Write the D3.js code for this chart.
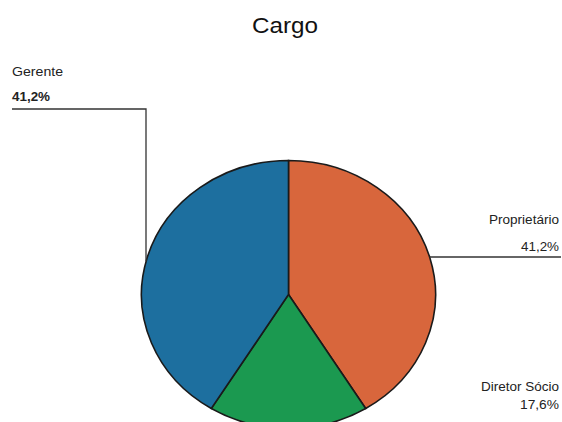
<!DOCTYPE html>
<html><head><meta charset="utf-8">
<script src="https://cdn.jsdelivr.net/npm/d3@7"></script>
<style>body{margin:0;background:#fff}svg{display:block}text{font-family:"Liberation Sans",Arial,sans-serif;fill:#222}</style>
</head><body><svg id="c" width="562" height="422"></svg>
<script>
const categories = ["Proprietário", "Diretor Sócio", "Gerente"];
const values = [41.2, 17.6, 41.2];
const valueLabels = ["41,2%", "17,6%", "41,2%"];
const colors = ["#d8663c", "#1b9950", "#1d6f9f"];
const title = "Cargo";

const W = 562, H = 422;
const svg = d3.select("#c");
svg.append("rect").attr("width", W).attr("height", H).attr("fill", "#fff");

const cx = 288.5, cy = 294.5, rx = 147, ry = 134, R = 100;
const pie = d3.pie().sort(null).value(d => d)(values);
const arc = d3.arc().innerRadius(0).outerRadius(R);

const g = svg.append("g").attr("transform", `translate(${cx},${cy}) scale(${rx/R},${ry/R})`);
g.selectAll("path").data(pie).join("path")
  .attr("d", arc)
  .attr("fill", (d, i) => colors[i])
  .attr("stroke", "#1a1a1a")
  .attr("stroke-width", 1.6)
  .attr("vector-effect", "non-scaling-stroke");

svg.append("text").attr("x", 285).attr("y", 33).attr("text-anchor", "middle")
  .style("font-size", "22px").style("fill", "#111")
  .attr("textLength", 66).attr("lengthAdjust", "spacingAndGlyphs").text(title);

// ellipse helpers
const yOnEllipseAtX = x => cy - ry * Math.sqrt(Math.max(0, 1 - ((x - cx) / rx) ** 2));
const xOnEllipseAtY = y => cx + rx * Math.sqrt(Math.max(0, 1 - ((y - cy) / ry) ** 2));

const lineStyle = s => s.attr("fill", "none").attr("stroke", "#333").attr("stroke-width", 1.3);

// Gerente leader
const gx = 146, gy = 109;
svg.append("path").call(lineStyle)
  .attr("d", `M12,${gy} H${gx} V${yOnEllipseAtX(gx)}`);
// Proprietário leader
const py = 257;
svg.append("path").call(lineStyle)
  .attr("d", `M${xOnEllipseAtY(py)},${py} H561`);

function label(x, y, txt, anchor, weight, len) {
  svg.append("text").attr("x", x).attr("y", y).attr("text-anchor", anchor)
    .style("font-size", "12px").style("font-weight", weight)
    .attr("textLength", len).attr("lengthAdjust", "spacingAndGlyphs").text(txt);
}
label(12, 76, categories[2], "start", "normal", 51);
label(12, 101, valueLabels[2], "start", "bold", 38);
label(559, 224, categories[0], "end", "normal", 70);
label(559, 251, valueLabels[0], "end", "normal", 38);
label(559, 391, categories[1], "end", "normal", 78);
label(559, 409, valueLabels[1], "end", "normal", 39);
</script></body></html>
